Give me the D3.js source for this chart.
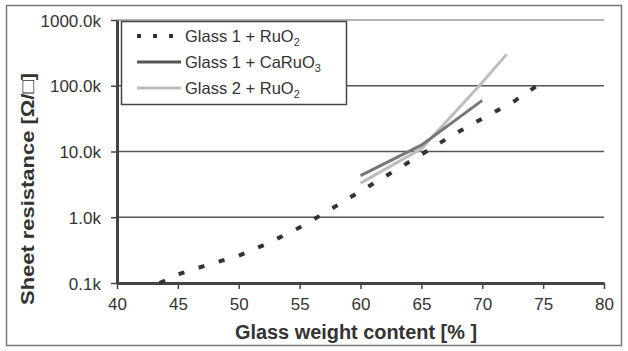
<!DOCTYPE html>
<html>
<head>
<meta charset="utf-8">
<script src="https://cdn.jsdelivr.net/npm/d3@7"></script>
<style>
  body { margin: 0; background: #fff; }
  text { font-family: "Liberation Sans", Arial, sans-serif; }
</style>
</head>
<body>
<div class="canvas"></div>
<script>
// data (resistance in k ohm/sq)
const glass1RuX = [43.5, 45, 47.5, 50, 52.5, 55, 57.5, 60, 62.5, 65, 67.5, 70, 72.5, 74.5];
const glass1RuY = [0.1, 0.135, 0.19, 0.26, 0.41, 0.70, 1.3, 2.5, 4.7, 9.0, 17.5, 31.6, 56, 100];
const glass1CaX = [60, 65, 70];
const glass1CaY = [4.3, 12.5, 60];
const glass2RuX = [60, 65, 70, 72];
const glass2RuY = [3.3, 11, 112, 300];
const xTicks = [40, 45, 50, 55, 60, 65, 70, 75, 80];
const yTicks = [0.1, 1, 10, 100, 1000];
const seriesNames = ['Glass 1 + RuO', 'Glass 1 + CaRuO', 'Glass 2 + RuO'];
const seriesSubs = ['2', '3', '2'];

const svg = d3.select('.canvas')
    .append('svg')
    .attr('width', 628)
    .attr('height', 351);

// outer frame
svg.append('rect')
    .attr('x', 6.5).attr('y', 5.5)
    .attr('width', 615).attr('height', 340)
    .attr('fill', 'none')
    .attr('stroke', '#777')
    .attr('stroke-width', 1.5);

// scales
const x = d3.scaleLinear().domain([40, 80]).range([117, 604]);
const y = d3.scaleLog().domain([0.1, 1000]).range([283, 20]);

// gridlines
svg.append('g')
    .selectAll('line')
    .data(yTicks.slice(1))
    .enter()
    .append('line')
    .attr('x1', x(40)).attr('x2', x(80))
    .attr('y1', d => y(d)).attr('y2', d => y(d))
    .attr('stroke', d => d === 1000 ? '#999' : '#555')
    .attr('stroke-width', 1.6);

// axes
const xAxis = d3.axisBottom(x).tickValues(xTicks).tickSize(6).tickSizeOuter(0).tickPadding(5);
const yAxis = d3.axisLeft(y).tickValues(yTicks).tickSize(6).tickSizeOuter(0).tickPadding(10)
    .tickFormat(d => d3.format('.1f')(d) + 'k');

const gx = svg.append('g').attr('transform', `translate(0, ${y(0.1)})`).call(xAxis);
const gy = svg.append('g').attr('transform', `translate(${x(40)}, 0)`).call(yAxis);

[gx, gy].forEach(g => {
    g.select('.domain').attr('stroke', '#444').attr('stroke-width', 3);
    g.selectAll('.tick line').attr('stroke', '#444').attr('stroke-width', 1.5);
    g.selectAll('.tick text')
        .attr('fill', '#333')
        .style('font-size', '17px')
        .style('font-family', '"Liberation Sans", Arial, sans-serif');
});
gx.selectAll('.tick text').attr('dy', '0.95em');
gy.selectAll('.tick text').attr('dy', '0.36em');

// lines
const line = d3.line().x(d => x(d[0])).y(d => y(d[1]));

svg.append('path')
    .datum(d3.zip(glass2RuX, glass2RuY))
    .attr('d', line)
    .attr('fill', 'none')
    .attr('stroke', '#bdbdbd')
    .attr('stroke-width', 3);

svg.append('path')
    .datum(d3.zip(glass1CaX, glass1CaY))
    .attr('d', line)
    .attr('fill', 'none')
    .attr('stroke', '#777')
    .attr('stroke-width', 3);

svg.append('path')
    .datum(d3.zip(glass1RuX, glass1RuY))
    .attr('d', line)
    .attr('fill', 'none')
    .attr('stroke', '#333')
    .attr('stroke-width', 4)
    .attr('stroke-dasharray', '6,15');

// legend
const legend = svg.append('g');
legend.append('rect')
    .attr('x', 121.5).attr('y', 21.5)
    .attr('width', 225).attr('height', 83)
    .attr('fill', '#fff')
    .attr('stroke', '#444')
    .attr('stroke-width', 1.5);

const legendStyles = [
    { stroke: '#333', width: 4, dash: '4,12' },
    { stroke: '#555', width: 3, dash: null },
    { stroke: '#bdbdbd', width: 3, dash: null }
];

seriesNames.forEach((name, i) => {
    const ly = 36 + i * 26;
    legend.append('line')
        .attr('x1', 137).attr('x2', 181)
        .attr('y1', ly).attr('y2', ly)
        .attr('stroke', legendStyles[i].stroke)
        .attr('stroke-width', legendStyles[i].width)
        .attr('stroke-dasharray', legendStyles[i].dash);
    const t = legend.append('text')
        .attr('x', 185).attr('y', ly + 6)
        .attr('fill', '#333')
        .style('font-size', '16.5px')
        .text(name);
    t.append('tspan')
        .attr('dy', 4)
        .style('font-size', '11px')
        .text(seriesSubs[i]);
});

// axis titles
svg.append('text')
    .attr('x', 356).attr('y', 339)
    .attr('text-anchor', 'middle')
    .attr('fill', '#333')
    .attr('textLength', 242)
    .attr('lengthAdjust', 'spacingAndGlyphs')
    .style('font-size', '20px')
    .style('font-weight', 'bold')
    .text('Glass weight content [% ]');

svg.append('text')
    .attr('transform', 'translate(34, 189) rotate(-90)')
    .attr('text-anchor', 'middle')
    .attr('fill', '#333')
    .attr('textLength', 232)
    .attr('lengthAdjust', 'spacingAndGlyphs')
    .style('font-size', '19px')
    .style('font-weight', 'bold')
    .text('Sheet resistance [Ω/□]');
</script>
</body>
</html>
